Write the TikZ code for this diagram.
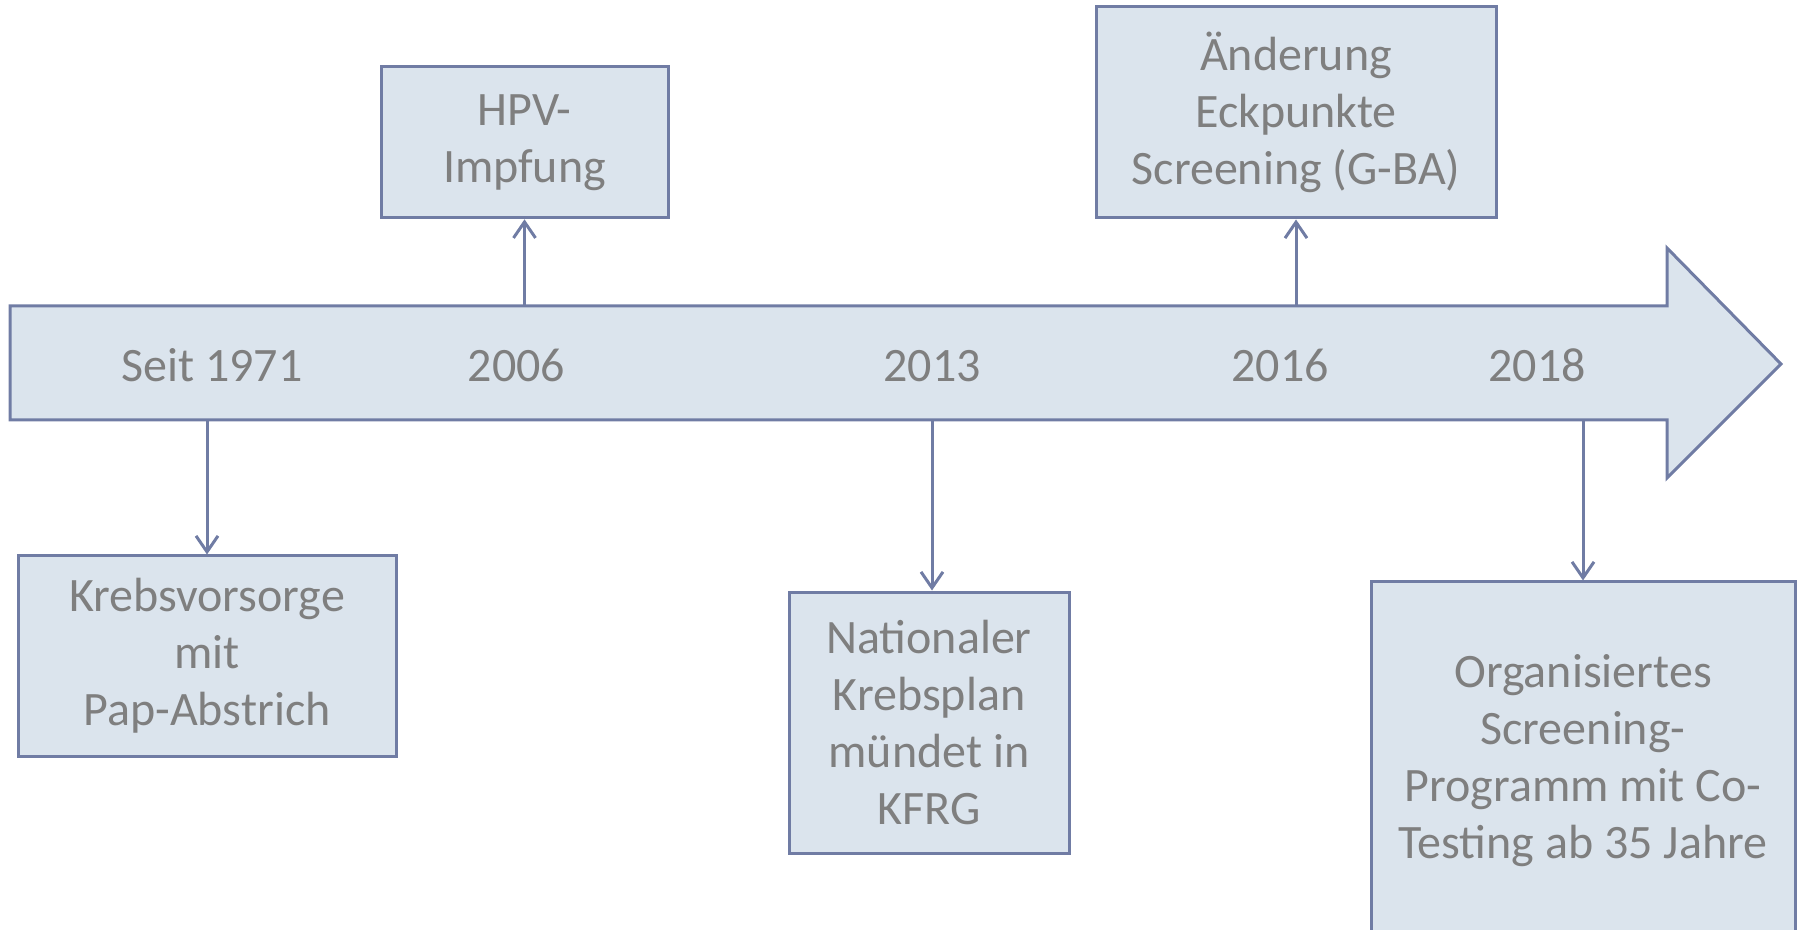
\documentclass[tikz,border=0pt]{standalone}
\usepackage{fontspec}
\setmainfont{Carlito}
\usetikzlibrary{arrows.meta}
\definecolor{boxfill}{RGB}{219,228,237}
\definecolor{boxline}{RGB}{112,124,164}
\definecolor{txt}{RGB}{127,127,127}
\begin{document}
\begin{tikzpicture}[x=0.5pt,y=-0.5pt,
 evbox/.style={draw=boxline,fill=boxfill,line width=1.5pt,inner sep=0pt,align=center,text=txt,font=\fontsize{24}{28.5}\selectfont},
 yearlbl/.style={text=txt,font=\fontsize{24}{28.5}\selectfont,inner sep=0pt,anchor=base},
 conn/.style={draw=boxline,line width=1.5pt,-{Straight Barb[length=8pt,width=11pt,line width=1.5pt]}}]
\useasboundingbox (0,0) rectangle (1800,930);
\begin{scope}
\clip (0,0) rectangle (1800,930);
% timeline arrow
\draw[draw=boxline,fill=boxfill,line width=1.5pt,line join=miter]
  (10,306)--(1667,306)--(1667,248)--(1781,364)--(1667,478)--(1667,420)--(10,420)--cycle;
\coordinate (c1971) at (207,420);
\coordinate (c2006) at (524.5,306);
\coordinate (c2013) at (932,420);
\coordinate (c2016) at (1296,306);
\coordinate (c2018) at (1583,420);
% year labels
\node[yearlbl] (y1971) at (212,382) {Seit 1971};
\node[yearlbl] (y2006) at (516.6,382) {2006};
\node[yearlbl] (y2013) at (932,382) {2013};
\node[yearlbl] (y2016) at (1280,382) {2016};
\node[yearlbl] (y2018) at (1537,382) {2018};
% event boxes
\node[evbox,minimum width=143.5pt,minimum height=75.5pt] (hpv) at (524.5,142.3) {HPV-\\Impfung};
\node[evbox,minimum width=200pt,minimum height=105.5pt] (aend) at (1296,112.5) {Änderung\\Eckpunkte\\Screening (G-BA)};
\node[evbox,minimum width=189pt,minimum height=100pt] (krebs) at (207,656) {Krebsvorsorge\\mit\\Pap-Abstrich};
\node[evbox,minimum width=140pt,minimum height=130.5pt] (nat) at (929,722.5) {Nationaler\\Krebsplan\\mündet in\\KFRG};
\node[evbox,minimum width=212pt,minimum height=179pt] (org) at (1583,761) {Organisiertes\\Screening-\\Programm mit Co-\\Testing ab 35 Jahre};
% connectors
\draw[conn] (c2006) -- (c2006 |- hpv.south);
\draw[conn] (c2016) -- (c2016 |- aend.south);
\draw[conn] (c1971) -- (c1971 |- krebs.north);
\draw[conn] (c2013) -- (c2013 |- nat.north);
\draw[conn] (c2018) -- (c2018 |- org.north);
\end{scope}
\end{tikzpicture}
\end{document}
